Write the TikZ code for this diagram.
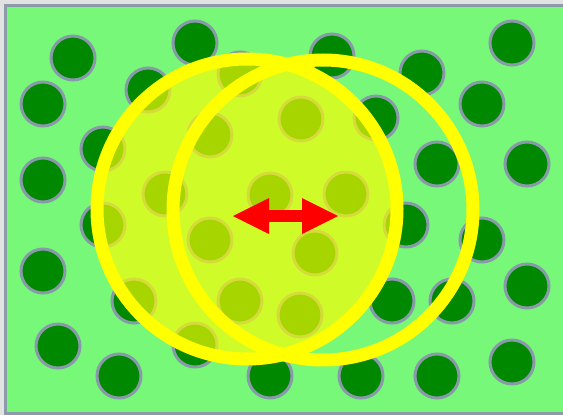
\documentclass[tikz,border=0pt]{standalone}
\usetikzlibrary{arrows.meta}
\definecolor{pageGray}{HTML}{E2E2E2}
\definecolor{frameGray}{HTML}{8C9BAA}
\definecolor{fieldGreen}{HTML}{78F878}
\definecolor{dotGreen}{HTML}{008800}
\definecolor{dotEdge}{HTML}{8899AA}
\definecolor{lensYellow}{HTML}{FFFF00}
\definecolor{arrowRed}{HTML}{FF0000}

\begin{document}
\begin{tikzpicture}[x=1pt, y=-1pt,
    dot/.style={circle, draw=dotEdge, fill=dotGreen, line width=3pt,
                minimum size=44pt, inner sep=0pt},
    ring/.style={draw=lensYellow, line width=13pt},
    bigtip/.tip={Triangle[length=36pt, width=36pt, line width=0pt]},
  ]
    \useasboundingbox (0,0) rectangle (563,415);
    \clip (0,0) rectangle (563,415);
    \fill[pageGray] (0,0) rectangle (563,415);
    \draw[frameGray, fill=fieldGreen, line width=3pt] (5.5,5.5) rectangle (590,413.5);

    % scattered dots
    \foreach \x/\y [count=\i] in {73/58, 195/43, 43/104, 148/90, 103/149, 43/180,
        103/225, 43/271, 134/301, 58/346, 119/376, 195/345, 240/74, 210/135,
        165/194, 270/195, 210/240, 240/301, 301/119, 300/315, 315/253, 332/56,
        376/118, 346/194, 270/376, 361/376, 422/73, 482/104, 512/43, 437/164,
        527/164, 406/225, 482/240, 392/301, 452/301, 527/286, 437/376, 512/362}
      \node[dot] (d\i) at (\x,\y) {};

    % the two lenses
    \coordinate (lensA) at (247,209);
    \coordinate (lensB) at (323,210);
    \fill[lensYellow, fill opacity=0.65] (lensA) circle (150pt);
    \draw[ring] (lensA) circle (150pt);
    \draw[ring] (lensB) circle (150pt);

    \coordinate (tipL) at (233,216);
    \coordinate (tipR) at (338,216);
    \draw[arrowRed, line width=12pt, bigtip-bigtip] (tipL) -- (tipR);
  \end{tikzpicture}
\end{document}
